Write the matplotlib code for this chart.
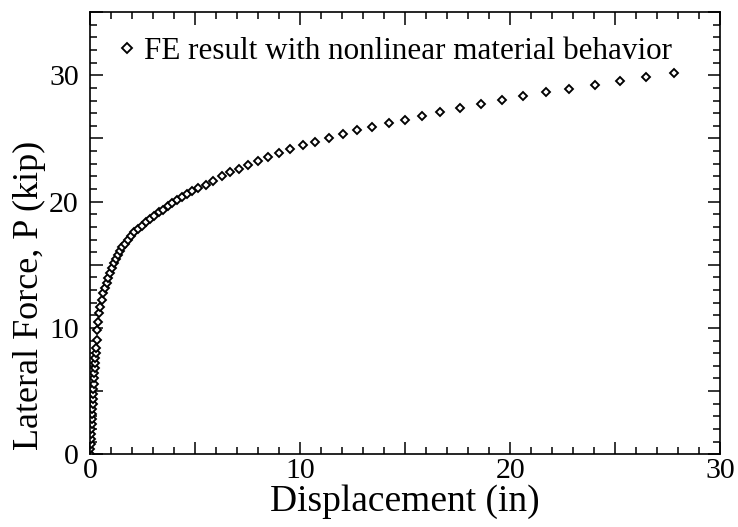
import numpy as np
import matplotlib.pyplot as plt

# Datos (desplazamiento en in, fuerza en kip)
desplazamiento = [0, 0.012, 0.024, 0.036, 0.048, 0.06, 0.072, 0.085, 0.098, 0.11,
                  0.123, 0.136, 0.15, 0.164, 0.178, 0.193, 0.208, 0.223, 0.24, 0.258,
                  0.277, 0.297, 0.32, 0.35, 0.40, 0.43, 0.48, 0.56, 0.63, 0.71,
                  0.80, 0.87, 0.95, 1.03, 1.14, 1.22, 1.32, 1.43, 1.54, 1.67,
                  1.79, 1.95, 2.11, 2.27, 2.46, 2.65, 2.86, 3.06, 3.29, 3.49,
                  3.70, 3.92, 4.13, 4.37, 4.60, 4.87, 5.16, 5.51, 5.87, 6.27,
                  6.67, 7.11, 7.54, 7.99, 8.49, 9.00, 9.52, 10.13, 10.73, 11.38,
                  12.02, 12.70, 13.41, 14.24, 15.00, 15.82, 16.68, 17.60, 18.59, 19.59,
                  20.60, 21.71, 22.81, 24.03, 25.22, 26.48, 27.82]
fuerza = [0, 0.4, 0.8, 1.2, 1.6, 2.0, 2.4, 2.8, 3.2, 3.6,
          4.0, 4.4, 4.8, 5.2, 5.6, 6.0, 6.4, 6.8, 7.2, 7.6,
          8.0, 8.4, 9.05, 9.84, 10.5, 11.17, 11.69, 12.22, 12.75, 13.15,
          13.55, 13.94, 14.34, 14.74, 15.13, 15.45, 15.79, 16.06, 16.40, 16.67,
          16.98, 17.25, 17.56, 17.83, 18.10, 18.36, 18.63, 18.89, 19.15, 19.37,
          19.63, 19.90, 20.16, 20.37, 20.63, 20.87, 21.11, 21.35, 21.67, 22.00,
          22.33, 22.62, 22.91, 23.23, 23.52, 23.83, 24.13, 24.47, 24.74, 25.07,
          25.36, 25.63, 25.90, 26.25, 26.50, 26.80, 27.10, 27.40, 27.70, 28.04,
          28.33, 28.65, 28.94, 29.26, 29.55, 29.87, 30.18]

ticks_x = [0, 5, 10, 15, 20, 25, 30]
etiquetas_x = ["0", "", "10", "", "20", "", "30"]
ticks_y = [0, 5, 10, 15, 20, 25, 30, 35]
etiquetas_y = ["0", "", "10", "", "20", "", "30", ""]

plt.rcParams["font.family"] = ["Liberation Serif", "DejaVu Serif"]

fig = plt.figure(figsize=(7.38, 5.27), dpi=100)
ax = fig.add_axes([0.122, 0.138, 0.854, 0.839])

ax.plot(desplazamiento, fuerza, linestyle="none", marker="D", markersize=3.7,
        markerfacecolor="white", markeredgecolor="black", markeredgewidth=1.35,
        label="FE result with nonlinear material behavior")

ax.set_xlim(0, 30)
ax.set_ylim(0, 35)
ax.set_xticks(ticks_x)
ax.set_xticklabels(etiquetas_x)
ax.set_yticks(ticks_y)
ax.set_yticklabels(etiquetas_y)
ax.set_xticks(np.arange(0, 31, 1), minor=True)
ax.set_yticks(np.arange(0, 36, 1), minor=True)
ax.tick_params(which="both", direction="in", top=True, right=True, width=1.1,
               labelsize=21.5)
ax.tick_params(axis="x", pad=3)
ax.tick_params(axis="y", pad=8)
ax.tick_params(which="major", length=9)
ax.tick_params(which="minor", length=5)
for s in ax.spines.values():
    s.set_linewidth(1.2)

ax.set_xlabel("Displacement (in)", fontsize=27, labelpad=0)
ax.set_ylabel("Lateral Force, P (kip)", fontsize=26)
ax.yaxis.set_label_coords(-0.07, 0.36)

ax.legend(loc="upper left", frameon=False, fontsize=22.4, handlelength=0.8,
          handletextpad=0.15, borderaxespad=0.4, markerscale=1.35)

plt.savefig("out.png", dpi=100)
